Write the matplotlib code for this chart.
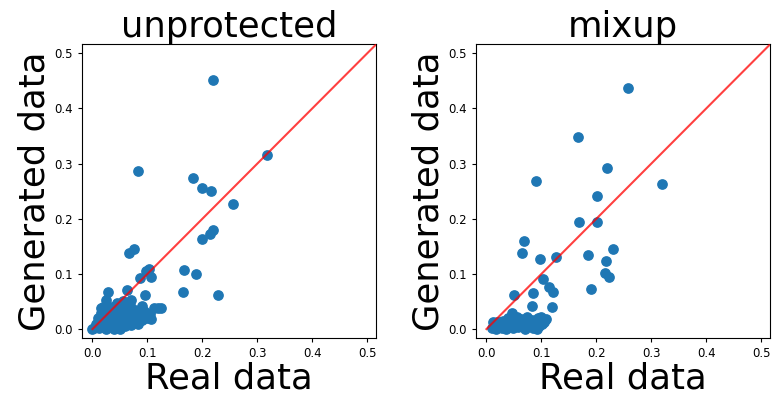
import matplotlib
matplotlib.use("Agg")
import matplotlib.pyplot as plt

# values (real vs generated)
real_unprot = [0.219, 0.317, 0.082, 0.182, 0.199, 0.215, 0.255, 0.220, 0.214, 0.199,
               0.075, 0.067, 0.102, 0.098, 0.107, 0.087, 0.167, 0.189, 0.164, 0.229,
               0.028, 0.062, 0.024, 0.015, 0.096, 0.070, 0.069, 0.044, 0.056, 0.120,
               0.111, 0.124, 0.090, 0.093, 0.107, 0.090, 0.069, 0.049,
               0.000, 0.003, 0.005, 0.008, 0.010, 0.012, 0.014, 0.016, 0.018, 0.020,
               0.022, 0.024, 0.025, 0.027, 0.030, 0.030, 0.033, 0.035, 0.037, 0.040,
               0.041, 0.044, 0.046, 0.048, 0.050, 0.052, 0.055, 0.057, 0.060, 0.062,
               0.064, 0.067, 0.070, 0.073, 0.076, 0.080, 0.083, 0.086, 0.016, 0.020,
               0.010, 0.006, 0.035, 0.045, 0.058, 0.050, 0.040, 0.100, 0.098, 0.078,
               0.104]
gen_unprot = [0.452, 0.316, 0.286, 0.274, 0.256, 0.251, 0.227, 0.179, 0.173, 0.164,
              0.146, 0.137, 0.108, 0.105, 0.095, 0.092, 0.107, 0.100, 0.068, 0.062,
              0.068, 0.070, 0.053, 0.039, 0.062, 0.053, 0.043, 0.047, 0.050, 0.038,
              0.038, 0.038, 0.041, 0.032, 0.018, 0.016, 0.017, 0.008,
              0.000, 0.002, 0.004, 0.003, 0.008, 0.002, 0.012, 0.006, 0.018, 0.004,
              0.010, 0.024, 0.001, 0.015, 0.007, 0.030, 0.020, 0.003, 0.012, 0.026,
              0.006, 0.018, 0.032, 0.002, 0.010, 0.022, 0.014, 0.035, 0.005, 0.024,
              0.012, 0.030, 0.008, 0.020, 0.015, 0.027, 0.010, 0.022, 0.030, 0.040,
              0.020, 0.010, 0.040, 0.045, 0.040, 0.001, 0.000, 0.020, 0.030, 0.035,
              0.028]

real_mixup = [0.257, 0.166, 0.220, 0.091, 0.319, 0.201, 0.169, 0.201, 0.068, 0.064,
              0.097, 0.126, 0.185, 0.231, 0.217, 0.216, 0.222, 0.102, 0.113, 0.121,
              0.191, 0.050, 0.084, 0.083, 0.120, 0.046, 0.020, 0.063, 0.073, 0.093,
              0.109, 0.101, 0.089, 0.070,
              0.010, 0.015, 0.018, 0.022, 0.025, 0.028, 0.032, 0.035, 0.038, 0.042,
              0.045, 0.048, 0.052, 0.055, 0.058, 0.062, 0.066, 0.030, 0.012, 0.040,
              0.056, 0.078, 0.082, 0.095, 0.098, 0.105, 0.100, 0.085, 0.092]
gen_mixup = [0.436, 0.348, 0.292, 0.268, 0.262, 0.241, 0.194, 0.194, 0.160, 0.137,
             0.127, 0.130, 0.135, 0.146, 0.123, 0.102, 0.094, 0.090, 0.076, 0.068,
             0.073, 0.062, 0.066, 0.042, 0.040, 0.029, 0.013, 0.018, 0.021, 0.020,
             0.018, 0.010, 0.003, 0.000,
             0.002, 0.008, 0.000, 0.005, 0.012, 0.002, 0.006, 0.000, 0.010, 0.004,
             0.015, 0.002, 0.008, 0.016, 0.003, 0.010, 0.005, 0.014, 0.012, 0.020,
             0.022, 0.010, 0.016, 0.006, 0.015, 0.012, 0.022, 0.002, 0.000]

panels = [("unprotected", real_unprot, gen_unprot),
          ("mixup", real_mixup, gen_mixup)]

fig = plt.figure(figsize=(7.74, 3.98), dpi=100)
lefts = [0.106, 0.615]

for left, (title, real, gen) in zip(lefts, panels):
    ax = fig.add_axes([left, 0.151, 0.380, 0.739])
    ax.scatter(real, gen, s=45, color="#1f77b4", zorder=2)
    ax.plot([0, 0.52], [0, 0.52], color="red", alpha=0.75, lw=1.5, zorder=3)
    ax.set_xlim(-0.019, 0.516)
    ax.set_ylim(-0.016, 0.517)
    ax.set_xticks([0.0, 0.1, 0.2, 0.3, 0.4, 0.5])
    ax.set_yticks([0.0, 0.1, 0.2, 0.3, 0.4, 0.5])
    ax.tick_params(labelsize=8.5, length=3)
    ax.set_title(title, fontsize=25.5, pad=3)
    ax.set_xlabel("Real data", fontsize=25.5, labelpad=1)
    ax.set_ylabel("Generated data", fontsize=25.5, labelpad=2)

fig.savefig("out.png", dpi=100)
